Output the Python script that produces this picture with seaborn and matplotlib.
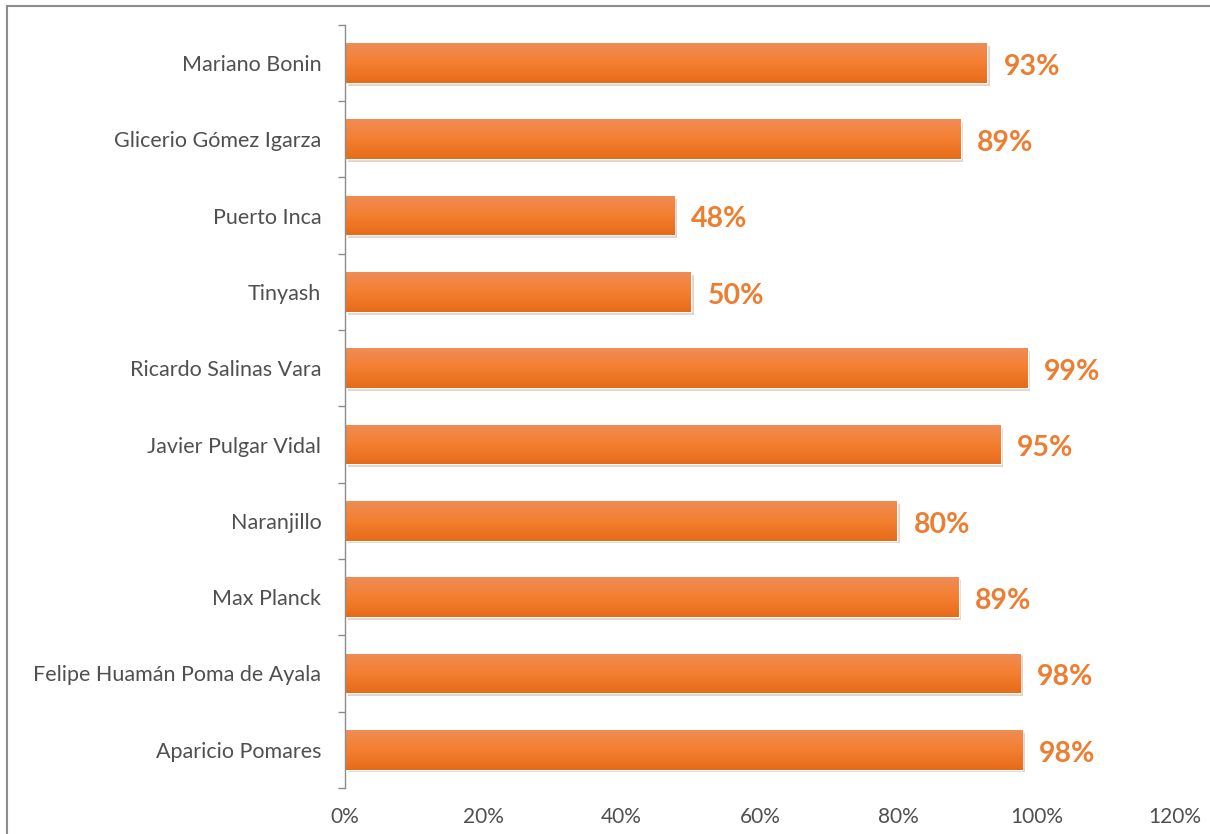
import numpy as np
import pandas as pd
import matplotlib.pyplot as plt
import matplotlib.patches as mpatches
import matplotlib.patheffects as pe
from matplotlib.colors import LinearSegmentedColormap
import seaborn as sns

# Data
schools = ["Mariano Bonin", "Glicerio Gómez Igarza", "Puerto Inca", "Tinyash",
           "Ricardo Salinas Vara", "Javier Pulgar Vidal", "Naranjillo", "Max Planck",
           "Felipe Huamán Poma de Ayala", "Aparicio Pomares"]
shares = [0.928, 0.89, 0.476, 0.50, 0.987, 0.948, 0.798, 0.887, 0.976, 0.979]
x_ticks = [0, 0.2, 0.4, 0.6, 0.8, 1.0, 1.2]

df = pd.DataFrame({"school": schools, "share": shares})

sns.set_theme(style="white")
plt.rcParams["font.family"] = ["Lato", "DejaVu Sans"]

fig = plt.figure(figsize=(12.1, 8.34), dpi=100)
ax = fig.add_axes([0.2851, 0.0552, 0.686, 0.915])

sns.barplot(data=df, x="share", y="school", color="#ED7D31", width=0.52,
            saturation=1, ax=ax)

# gradient fill + soft shadow on each bar
cmap = LinearSegmentedColormap.from_list("org", ["#F08C55", "#F47F30", "#E66B19"])
grad = np.linspace(0, 1, 64).reshape(-1, 1)
for bar in ax.patches:
    x0, y0 = bar.get_x(), bar.get_y()
    w, h = bar.get_width(), bar.get_height()
    bar.set_path_effects([pe.SimplePatchShadow(offset=(2, -2), alpha=0.22, rho=0.5),
                          pe.Normal()])
    im = ax.imshow(grad, cmap=cmap, aspect="auto", extent=(x0, x0 + w, y0 + h, y0),
                   zorder=bar.get_zorder() + 0.1)
    im.set_clip_path(bar)

for i, v in enumerate(shares):
    ax.text(v + 0.024, i + 0.05, f"{round(v * 100):.0f}%", va="center", ha="left",
            color="#ED7D31", fontsize=20.5, fontweight="bold")

ax.set_xlim(0, 1.2)
ax.set_ylim(len(schools) - 0.5, -0.5)
ax.set_xticks(x_ticks)
ax.set_xticklabels([f"{int(round(t * 100))}%" for t in x_ticks])
ax.set_xlabel("")
ax.set_ylabel("")

# category ticks sit between the bars
ax.set_yticks(np.arange(-0.5, len(schools), 1), minor=True)
ax.tick_params(axis="y", which="minor", length=5, width=1, color="#8C8C8C", left=True)
ax.tick_params(axis="y", which="major", length=0, pad=17, labelsize=15.5, labelcolor="#505050")
ax.tick_params(axis="x", length=0, pad=14, labelsize=15, labelcolor="#505050")

for s in ["top", "right", "bottom"]:
    ax.spines[s].set_visible(False)
ax.spines["left"].set_color("#8C8C8C")
ax.spines["left"].set_linewidth(1)

# outer chart border (cropped)
fig.patches.append(mpatches.Rectangle((7 / 1210, -0.1), 1.2, 1 - 6 / 834 + 0.1,
                                      transform=fig.transFigure, fill=False,
                                      edgecolor="#8C8C8C", linewidth=1.5))

fig.savefig("out.png", dpi=100)
